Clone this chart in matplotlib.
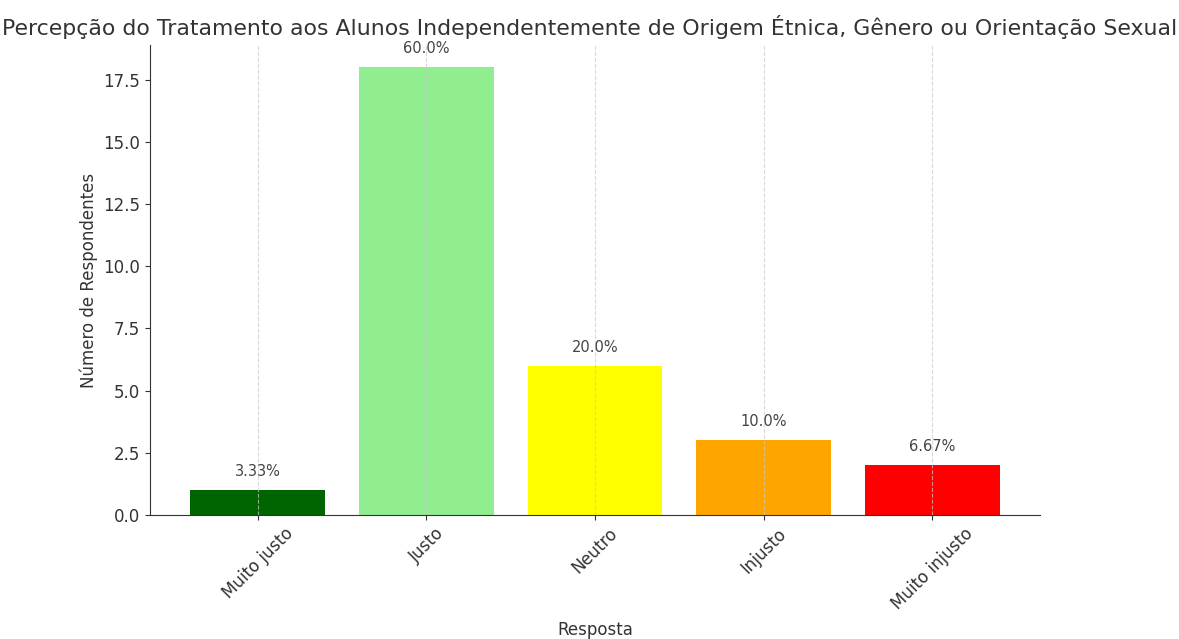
import matplotlib
matplotlib.use("Agg")
import matplotlib.pyplot as plt

categories = ["Muito justo", "Justo", "Neutro", "Injusto", "Muito injusto"]
counts = [1, 18, 6, 3, 2]
percent_labels = ["3.33%", "60.0%", "20.0%", "10.0%", "6.67%"]
colors = ["#006400", "#90EE90", "#FFFF00", "#FFA500", "#FF0000"]

plt.rcParams['font.family'] = ['DejaVu Sans']
plt.rcParams['text.color'] = '#333333'
plt.rcParams['axes.labelcolor'] = '#333333'
plt.rcParams['xtick.color'] = '#333333'
plt.rcParams['ytick.color'] = '#333333'

fig = plt.figure(figsize=(11.79, 6.39), dpi=100)
ax = fig.add_axes([150/1179, 1 - 515/639, 890/1179, 470/639])

bars = ax.bar(categories, counts, color=colors, width=0.8)
ax.grid(axis='x', linestyle='--', alpha=0.7, color='#c8c8c8')
ax.spines['top'].set_visible(False)
ax.spines['right'].set_visible(False)
ax.spines['left'].set_color('#333333')
ax.spines['bottom'].set_color('#333333')

for rect, lab in zip(bars, percent_labels):
    ax.text(rect.get_x() + rect.get_width() / 2, rect.get_height() + 0.45, lab,
            ha='center', va='bottom', fontsize=10.5, color='#444444')

ax.set_ylabel("Número de Respondentes", fontsize=12)
ax.set_xlabel("Resposta", fontsize=12)
ax.xaxis.labelpad = 6
ax.tick_params(axis='both', labelsize=12)
plt.setp(ax.get_xticklabels(), rotation=45)
fig.text(0.5, 1 - 27/639,
         "Percepção do Tratamento aos Alunos Independentemente de Origem Étnica, Gênero ou Orientação Sexual",
         fontsize=15.8, ha='center', va='center', color='#333333')

fig.savefig("out.png", dpi=100)
